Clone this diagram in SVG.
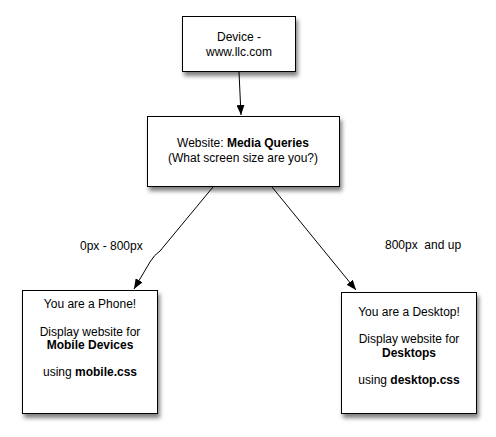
<svg xmlns="http://www.w3.org/2000/svg" width="496" height="437" viewBox="0 0 496 437">
<style>
.box{fill:#fff;stroke:#000;stroke-width:1;filter:url(#sh)}
text{font-family:"Liberation Sans",Arial,sans-serif;font-size:12px;fill:#000;text-anchor:middle}
.b{font-weight:bold}
.edge{fill:none;stroke:#000;stroke-width:1}
.lbl{text-anchor:start}
</style>
<defs>
<filter id="sh" x="-20%" y="-20%" width="150%" height="150%">
<feDropShadow dx="2" dy="4" stdDeviation="2" flood-color="#000" flood-opacity="0.5"/>
</filter>
<marker id="ah" viewBox="0 0 10 8" refX="10" refY="4" markerWidth="10" markerHeight="8" orient="auto" markerUnits="userSpaceOnUse">
<path d="M0,0 L10,4 L0,8 z" fill="#000"/>
</marker>
</defs>
<rect width="496" height="437" fill="#fff"/>
<g id="connectors">
<path class="edge" d="M239,72 L241,115" marker-end="url(#ah)"/>
<path class="edge" d="M213,187 L160,251 Q154,255 150,262 L134,289" marker-end="url(#ah)"/>
<path class="edge" d="M272,187 L356,290" marker-end="url(#ah)"/>
<text class="lbl" x="80" y="250">0px - 800px</text>
<text class="lbl" x="385" y="249" xml:space="preserve">800px  and up</text>
</g>
<g id="device">
<rect class="box" x="182.5" y="16.5" width="113" height="55"/>
<text x="239" y="41">Device -</text>
<text x="239" y="56">www.llc.com</text>
</g>
<g id="website">
<rect class="box" x="147.5" y="116.5" width="192" height="70"/>
<text x="243" y="147">Website: <tspan class="b">Media Queries</tspan></text>
<text x="243" y="162">(What screen size are you?)</text>
</g>
<g id="phone">
<rect class="box" x="22.5" y="290.5" width="135" height="123"/>
<text x="90" y="307.5">You are a Phone!</text>
<text x="90" y="336">Display website for</text>
<text x="90" y="348.5" class="b">Mobile Devices</text>
<text x="90" y="376">using <tspan class="b">mobile.css</tspan></text>
</g>
<g id="desktop">
<rect class="box" x="341.5" y="292.5" width="135" height="121"/>
<text x="409" y="316">You are a Desktop!</text>
<text x="409" y="342.5">Display website for</text>
<text x="409" y="356.5" class="b">Desktops</text>
<text x="409" y="384">using <tspan class="b">desktop.css</tspan></text>
</g>
</svg>
